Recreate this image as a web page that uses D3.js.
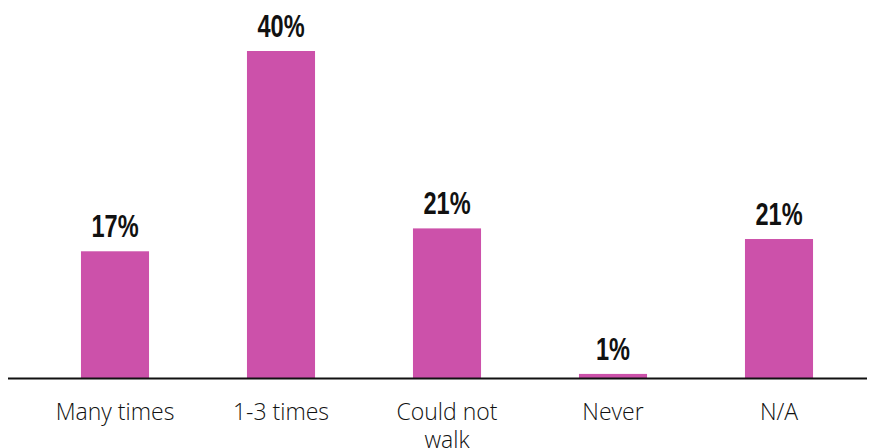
<!DOCTYPE html>
<html>
<head>
<meta charset="utf-8">
<script src="https://cdn.jsdelivr.net/npm/d3@7"></script>
<style>
  body { margin: 0; background: #fff; }
</style>
</head>
<body>
<svg width="879" height="448"></svg>
<script>
// data
const categories = ["Many times", "1-3 times", "Could not walk", "Never", "N/A"];
const values = [15.5, 40, 18.3, 0.5, 17];
const valueLabels = ["17%", "40%", "21%", "1%", "21%"];

let svg = d3.select("svg");
const baseline = 378;

let x = d3.scaleBand()
    .domain(categories)
    .range([32, 862])
    .paddingInner(0.59)
    .paddingOuter(0.295);

let y = d3.scaleLinear()
    .domain([0, 40])
    .range([baseline, 51]);

// bars
svg.selectAll(".bar")
    .data(categories)
    .enter()
    .append("rect")
    .attr("class", "bar")
    .attr("x", d => x(d))
    .attr("y", (d, i) => y(values[i]))
    .attr("width", x.bandwidth())
    .attr("height", (d, i) => baseline - y(values[i]))
    .attr("fill", "#cc51aa");

// value labels (narrow bold look)
svg.selectAll(".val")
    .data(categories)
    .enter()
    .append("text")
    .attr("class", "val")
    .attr("transform", (d, i) => `translate(${x(d) + x.bandwidth() / 2},${y(values[i]) - 14}) scale(0.76,1)`)
    .attr("text-anchor", "middle")
    .style("font-family", "'Liberation Sans', Arial, sans-serif")
    .style("font-weight", "bold")
    .style("font-size", "31px")
    .attr("fill", "#111")
    .text((d, i) => valueLabels[i]);

// axis line
svg.append("line")
    .attr("x1", 8).attr("x2", 867)
    .attr("y1", baseline + 0.5).attr("y2", baseline + 0.5)
    .attr("stroke", "#111")
    .attr("stroke-width", 2);

// category labels, wrapped
let lab = svg.selectAll(".cat")
    .data(categories)
    .enter()
    .append("text")
    .attr("class", "cat")
    .attr("text-anchor", "middle")
    .style("font-family", "'Open Sans', 'Noto Sans', sans-serif")
    .style("font-weight", "300")
    .style("font-size", "23px")
    .attr("fill", "#111");

lab.each(function(d) {
    let lines = d === "Could not walk" ? ["Could not", "walk"] : [d];
    d3.select(this).selectAll("tspan")
        .data(lines)
        .enter()
        .append("tspan")
        .attr("x", x(d) + x.bandwidth() / 2)
        .attr("y", (l, i) => 420 + i * 28)
        .text(l => l);
});
</script>
</body>
</html>
